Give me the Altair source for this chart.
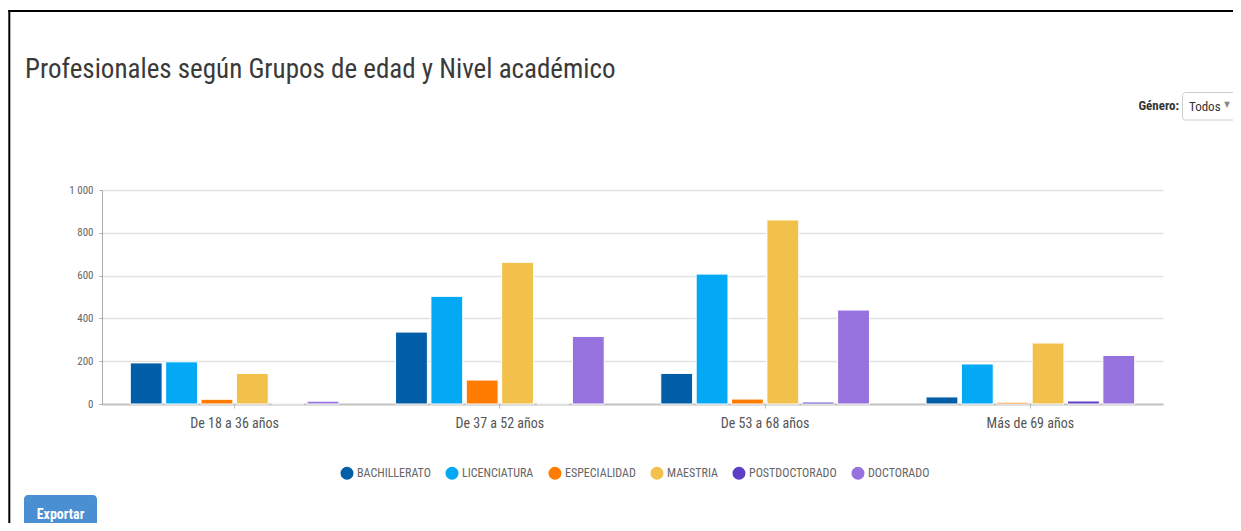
import altair as alt
import pandas as pd

groups = ["De 18 a 36 años", "De 37 a 52 años", "De 53 a 68 años", "Más de 69 años"]
levels = ["BACHILLERATO", "LICENCIATURA", "ESPECIALIDAD", "MAESTRIA", "POSTDOCTORADO", "DOCTORADO"]
colors = ["#015ea7", "#03a9f4", "#ff7c00", "#f2c14c", "#5d3fc6", "#9672de"]

bachillerato = [192, 336, 143, 33]
licenciatura = [197, 503, 607, 187]
especialidad = [22, 112, 23, 8]
maestria = [143, 662, 860, 285]
postdoctorado = [3, 3, 9, 14]
doctorado = [13, 316, 439, 227]

series = [bachillerato, licenciatura, especialidad, maestria, postdoctorado, doctorado]
rows = []
for lvl, vals in zip(levels, series):
    for g, v in zip(groups, vals):
        rows.append({"grupo": g, "nivel": lvl, "valor": v})
df = pd.DataFrame(rows)

FONT = "Liberation Sans Narrow, Roboto Condensed, DejaVu Sans Condensed, sans-serif"
W, H = 1061, 214
OX, OY = 102, 190  # page coords of plot origin

def px(x):
    return x - OX

def py(y):
    return y - OY

bars = alt.Chart(df).mark_bar(stroke="white", strokeWidth=1).encode(
    x=alt.X("grupo:N", sort=groups, title=None,
            scale=alt.Scale(paddingInner=0.2, paddingOuter=0.1),
            axis=alt.Axis(labelAngle=0, labelFont=FONT, labelFontSize=14, labelColor="#555555",
                          labelPadding=8, tickSize=4, tickColor="#bbbbbb", domainColor="#c4c4c4",
                          domainWidth=2, grid=False)),
    xOffset=alt.XOffset("nivel:N", sort=levels,
                        scale=alt.Scale(paddingInner=0.1, paddingOuter=0.05)),
    y=alt.Y("valor:Q", title=None,
            scale=alt.Scale(domain=[0, 1000]),
            axis=alt.Axis(values=[0, 200, 400, 600, 800, 1000],
                          labelExpr="replace(format(datum.value, ','), ',', ' ')",
                          labelFont=FONT, labelFontSize=11, labelColor="#666666",
                          labelPadding=6, tickSize=3, tickColor="#aaaaaa",
                          domainColor="#aaaaaa", gridColor="#e2e2e2", gridWidth=1.5)),
    color=alt.Color("nivel:N", sort=levels,
                    scale=alt.Scale(domain=levels, range=colors),
                    legend=alt.Legend(title=None, orient="none", direction="horizontal",
                                      legendX=238, legendY=276,
                                      symbolType="circle", symbolSize=170,
                                      symbolStrokeWidth=0, symbolOpacity=1,
                                      labelFont=FONT, labelFontSize=12, labelColor="#666666",
                                      columnPadding=14, labelOffset=3)),
)

one = pd.DataFrame({"k": [0]})
base = alt.Chart(one)

title = base.mark_text(align="left", baseline="alphabetic", fontSize=27, font=FONT,
                       color="#3a3a3a").encode(
    x=alt.value(px(25)), y=alt.value(py(78)), text=alt.value("Profesionales según Grupos de edad y Nivel académico"))

border_left = base.mark_rule(color="#000000", strokeWidth=2).encode(
    x=alt.value(px(9.3)), y=alt.value(py(10)), y2=alt.value(py(540)))
border_top = base.mark_rule(color="#000000", strokeWidth=2).encode(
    x=alt.value(px(8.3)), x2=alt.value(px(1245)), y=alt.value(py(11)))

genero = base.mark_text(align="right", baseline="middle", fontSize=13, font=FONT,
                        fontWeight="bold", color="#333333").encode(
    x=alt.value(px(1179)), y=alt.value(py(106)), text=alt.value("Género:"))
box = base.mark_rect(fill="white", stroke="#cccccc", strokeWidth=1, cornerRadius=3).encode(
    x=alt.value(px(1182.5)), x2=alt.value(px(1250)), y=alt.value(py(92.5)), y2=alt.value(py(120)))
todos = base.mark_text(align="left", baseline="middle", fontSize=13, font=FONT,
                       color="#333333").encode(
    x=alt.value(px(1189)), y=alt.value(py(107)), text=alt.value("Todos"))
arrow = base.mark_text(align="center", baseline="middle", fontSize=8, font=FONT,
                       color="#888888").encode(
    x=alt.value(px(1227)), y=alt.value(py(105)), text=alt.value("▼"))

btn = base.mark_rect(fill="#4a8fd2", cornerRadius=4).encode(
    x=alt.value(px(24)), x2=alt.value(px(97)), y=alt.value(py(495)), y2=alt.value(py(540)))
btn_text = base.mark_text(align="center", baseline="middle", fontSize=14, font=FONT,
                          fontWeight="bold", color="white").encode(
    x=alt.value(px(60.5)), y=alt.value(py(515)), text=alt.value("Exportar"))

chart = alt.layer(bars, title, border_left, border_top, box, genero, todos, arrow, btn, btn_text).properties(
    width=W, height=H,
    padding={"left": OX - 8, "top": OY - 8, "right": 1225 - (OX - 8) - W, "bottom": 515 - (OY - 8) - H},
    autosize=alt.AutoSizeParams(type="none"),
    background="white",
).configure_view(stroke=None)

chart.save("out.html", embed_options={"renderer": "svg", "actions": False})
